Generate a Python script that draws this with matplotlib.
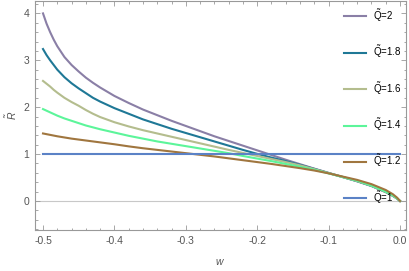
import matplotlib
matplotlib.use('Agg')
import matplotlib.pyplot as plt
from matplotlib.ticker import MultipleLocator, FormatStrFormatter

# values
w = [-0.5, -0.495, -0.49, -0.485, -0.48, -0.47, -0.46, -0.45, -0.44, -0.43, -0.42,
     -0.40, -0.38, -0.36, -0.34, -0.32, -0.30, -0.28, -0.26, -0.24, -0.22,
     -0.20, -0.18, -0.16, -0.14, -0.12, -0.10, -0.08,
     -0.06, -0.04, -0.02, -0.01, -0.004, 0.0]
r_q20 = [4.0, 3.78, 3.60, 3.44, 3.30, 3.07, 2.90, 2.76, 2.63, 2.52, 2.42,
         2.24, 2.09, 1.95, 1.83, 1.71, 1.60, 1.49, 1.38, 1.28, 1.18,
         1.08, 0.98, 0.88, 0.785, 0.69, 0.60, 0.51,
         0.42, 0.32, 0.19, 0.11, 0.05, 0.0]
r_q18 = [3.24, 3.11, 3.00, 2.90, 2.80, 2.64, 2.51, 2.40, 2.30, 2.20, 2.12,
         1.98, 1.86, 1.74, 1.64, 1.54, 1.45, 1.36, 1.27, 1.18, 1.09,
         1.005, 0.925, 0.85, 0.77, 0.685, 0.595, 0.51,
         0.422, 0.322, 0.192, 0.112, 0.051, 0.0]
r_q16 = [2.56, 2.50, 2.44, 2.37, 2.31, 2.20, 2.11, 2.03, 1.94, 1.86, 1.79,
         1.68, 1.59, 1.51, 1.44, 1.37, 1.30, 1.23, 1.16, 1.09, 1.025,
         0.96, 0.895, 0.83, 0.76, 0.68, 0.595, 0.51,
         0.425, 0.325, 0.195, 0.114, 0.052, 0.0]
r_q14 = [1.96, 1.925, 1.89, 1.855, 1.82, 1.76, 1.71, 1.66, 1.61, 1.57, 1.53,
         1.46, 1.39, 1.33, 1.27, 1.22, 1.17, 1.12, 1.07, 1.02, 0.96,
         0.905, 0.85, 0.79, 0.73, 0.665, 0.59, 0.51,
         0.432, 0.33, 0.20, 0.12, 0.055, 0.0]
r_q12 = [1.44, 1.425, 1.41, 1.395, 1.38, 1.355, 1.33, 1.31, 1.29, 1.27, 1.25,
         1.21, 1.165, 1.125, 1.09, 1.055, 1.02, 0.985, 0.95, 0.91, 0.87,
         0.83, 0.79, 0.745, 0.70, 0.65, 0.59, 0.52,
         0.45, 0.36, 0.235, 0.145, 0.07, 0.0]
r_q10 = [1.0] * len(w)

labels = ['2', '1.8', '1.6', '1.4', '1.2', '1']
colors = ['#8a7fa6', '#1f7896', '#b4bd8e', '#5cf59a', '#a0763f', '#5b82c6']
series = [r_q20, r_q18, r_q16, r_q14, r_q12, r_q10]

plt.rcParams['font.family'] = ['Liberation Sans', 'DejaVu Sans']
plt.rcParams['mathtext.fontset'] = 'custom'
plt.rcParams['mathtext.rm'] = 'Liberation Sans'
plt.rcParams['mathtext.it'] = 'Liberation Sans:italic'

fig = plt.figure(figsize=(4.09, 2.71), dpi=100)
ax = fig.add_axes([0.0856, 0.1513, 0.9071, 0.845])

ax.axhline(0, color='#c8c8c8', lw=0.8, zorder=1)
for lab, col, r in zip(labels, colors, series):
    ax.plot(w, r, color=col, lw=1.5, label=r'$\tilde{\mathrm{Q}}$=' + lab, zorder=2)

ax.set_xlim(-0.5112, 0.0084)
ax.set_ylim(-0.618, 4.264)

ax.xaxis.set_major_locator(MultipleLocator(0.1))
ax.xaxis.set_minor_locator(MultipleLocator(0.02))
ax.yaxis.set_major_locator(MultipleLocator(1))
ax.yaxis.set_minor_locator(MultipleLocator(0.2))
ax.xaxis.set_major_formatter(FormatStrFormatter('%.1f'))
ax.yaxis.set_major_formatter(FormatStrFormatter('%d'))

ax.tick_params(which='both', direction='in', top=True, right=True,
               color='#999999', labelcolor='#555555', labelsize=7.5, width=0.6)
ax.tick_params(which='major', length=3.3, pad=4)
ax.tick_params(which='minor', length=1.8)
for s in ax.spines.values():
    s.set_color('#999999')
    s.set_linewidth(0.8)

ax.set_xlabel('$w$', fontsize=7.5, color='#555555', labelpad=8)
ax.set_ylabel(r'$\tilde{R}$', fontsize=7.5, color='#555555', labelpad=3)

leg = ax.legend(loc='upper left', bbox_to_anchor=(0.834, 0.975), frameon=False,
                fontsize=7, handlelength=2.2, handletextpad=0.7,
                labelspacing=2.0, borderpad=0, borderaxespad=0)

fig.savefig('out.png', dpi=100)
